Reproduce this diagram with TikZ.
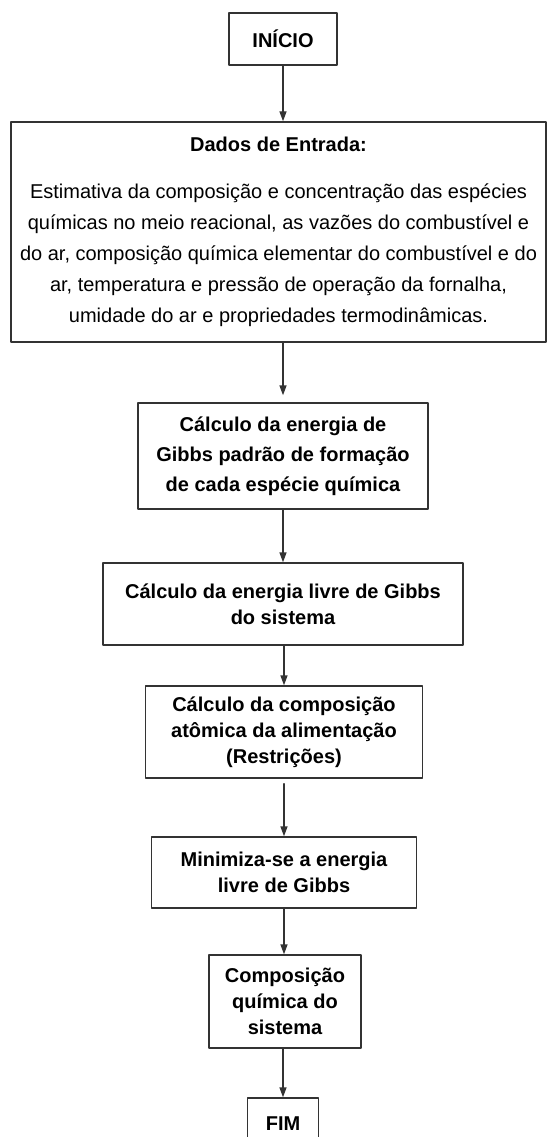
\documentclass[tikz,border=0pt]{standalone}
\usepackage{fontspec}
\setmainfont{Liberation Sans}
\usetikzlibrary{arrows.meta}

\begin{document}
\begin{tikzpicture}[line cap=round,line join=round,x=1pt,y=-1pt,
  >={Triangle[length=10pt,width=7pt]},
  caixa/.style={draw=black!80,line width=1.4pt,align=center,inner sep=0pt,
    font=\fontsize{20}{26}\selectfont\bfseries},
  seta/.style={->,draw=black!80,line width=1.4pt}]
\useasboundingbox (0,0) rectangle (547,1137);
\node[caixa,minimum width=108pt,minimum height=52pt] (inicio) at (283,39) {INÍCIO};
\node[caixa,minimum width=535pt,minimum height=220pt,
  font=\fontsize{20}{31}\selectfont] (dados) at (278.5,232)
  {\textbf{Dados de Entrada:}\\[16pt]
   Estimativa da composição e concentração das espécies\\
   químicas no meio reacional, as vazões do combustível e\\
   do ar, composição química elementar do combustível e do\\
   ar, temperatura e pressão de operação da fornalha,\\
   umidade do ar e propriedades termodinâmicas.};
\node[caixa,minimum width=290pt,minimum height=106pt,
  font=\fontsize{20}{30}\selectfont\bfseries] (padrao) at (283,456)
  {Cálculo da energia de\\ Gibbs padrão de formação\\ de cada espécie química};
\node[caixa,minimum width=360pt,minimum height=82pt] (livre) at (283,604)
  {Cálculo da energia livre de Gibbs\\ do sistema};
\node[caixa,minimum width=277pt,minimum height=92pt] (atomica) at (284,732)
  {Cálculo da composição\\ atômica da alimentação\\ (Restrições)};
\node[caixa,minimum width=265pt,minimum height=71pt] (minimo) at (284,872.5)
  {Minimiza-se a energia\\ livre de Gibbs};
\node[caixa,minimum width=152pt,minimum height=93pt] (compos) at (285,1001.5)
  {Composição\\ química do\\ sistema};
\node[caixa,minimum width=71pt,minimum height=52pt] (fim) at (283,1124) {FIM};
% setas
\draw[seta] (inicio.south) -- (inicio.south |- dados.north);
\draw[seta,shorten >=7pt] (padrao.north |- dados.south) -- (padrao.north);
\draw[seta] (padrao.south) -- (padrao.south |- livre.north);
\draw[seta] (atomica.north |- livre.south) -- (atomica.north);
\draw[seta,shorten <=5pt] (atomica.south) -- (atomica.south |- minimo.north);
\draw[seta] (minimo.south) -- (minimo.south |- compos.north);
\draw[seta] (fim.north |- compos.south) -- (fim.north);
\end{tikzpicture}
\end{document}
